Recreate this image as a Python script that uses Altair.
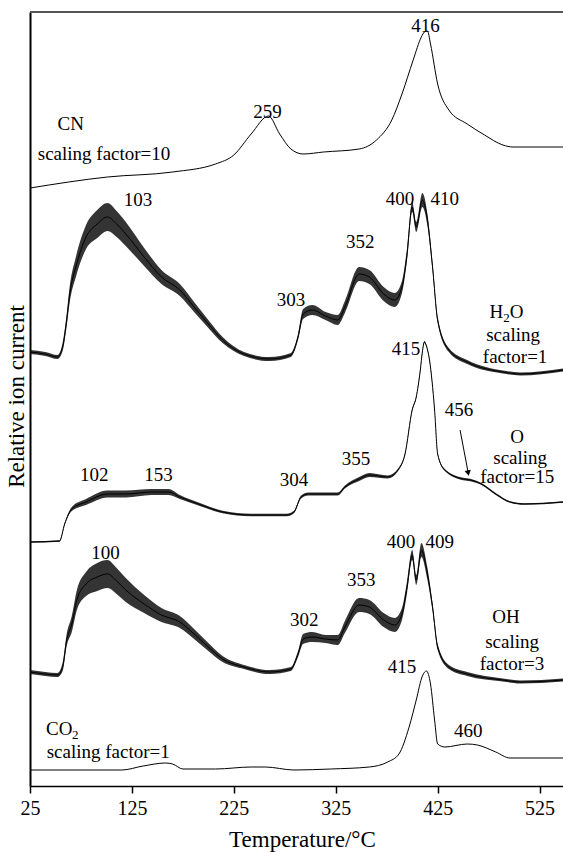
import altair as alt
import pandas as pd

# ---- curve data (temperature in °C, stacked relative ion current) ----
cn_T = [25, 101, 165, 207, 225, 242, 259, 270, 281, 293, 313, 348, 365, 380, 390, 401, 409, 412, 415, 418, 425, 436, 454, 471, 489, 499, 548]
cn_v = [598, 609, 614, 622, 631, 652, 670, 652, 637, 632, 634, 637, 646, 666, 692, 726, 749, 754, 755, 742, 702, 676, 662, 651, 641, 639, 639]

h2o_T = [25, 40, 52, 57, 61, 64, 70, 80, 91, 101, 110, 119, 137, 154, 172, 186, 200, 214, 235, 260,
         281, 288, 293, 302, 315, 327, 334, 348, 358, 372, 383, 390, 395, 400, 404, 410, 415, 420, 425, 436,
         454, 489, 506, 548]
h2o_v = [434, 432, 429, 439, 466, 492, 519, 549, 562, 569, 562, 552, 529, 509, 496, 479, 462, 446, 432, 427,
         431, 449, 472, 476, 470, 466, 479, 512, 509, 492, 486, 499, 532, 579, 559, 586, 566, 519, 466, 436,
         424, 414, 412, 416]
h2o_a = [2, 2, 2, 4, 6, 8, 10, 12, 14, 14, 13, 12, 9, 7, 6, 5, 4, 3, 2, 2,
         2, 3, 5, 5, 4, 5, 6, 7, 7, 7, 7, 6, 6, 5, 5, 7, 6, 4, 3, 2,
         2, 1.5, 1.5, 1.5]

o_T = [25, 54, 59, 66, 80, 101, 119, 144, 161, 172, 193, 214, 242, 277, 284, 291, 298, 327, 334, 348,
       358, 376, 386, 393, 400, 404, 408, 410, 412, 414, 417, 422, 425, 432, 450, 457, 468, 482, 496, 510, 548]
o_v = [244, 245, 262, 277, 284, 292, 292, 294, 294, 289, 281, 274, 271, 271, 274, 289, 292, 292, 299, 307,
       311, 309, 316, 332, 376, 389, 416, 434, 444, 440, 426, 376, 332, 316, 307, 306, 302, 292, 284, 282, 284]
o_a = [0.8, 0.8, 1, 2, 3, 3.5, 3.5, 3, 3, 2, 1.5, 1.2, 1.2, 1.2, 1.2, 1.5, 1.5, 1.5, 1.5, 2,
       2, 1.5, 1.2, 1, 1, 1, 1, 1, 1, 1, 1, 1, 1, 1, 1.2, 1.2, 1, 1, 0.8, 0.8, 0.8]

oh_T = [25, 40, 52, 57, 61, 66, 71, 80, 91, 101, 110, 119, 137, 154, 172, 186, 200, 214, 235, 260,
        281, 288, 293, 302, 315, 327, 334, 348, 358, 372, 383, 390, 395, 400, 404, 409, 415, 420, 425, 436,
        454, 489, 506, 548]
oh_v = [114, 112, 111, 119, 146, 162, 186, 202, 209, 212, 205, 196, 182, 171, 164, 152, 139, 127, 119, 114,
        117, 132, 147, 149, 147, 146, 159, 181, 179, 166, 161, 172, 199, 231, 206, 236, 212, 179, 139, 119,
        112, 106, 104, 106]
oh_a = [2, 2, 2, 4, 6, 8, 10, 12, 14, 14, 13, 12, 9, 7, 6, 5, 4, 3, 2, 2,
        2, 3, 5, 5, 4, 5, 6, 7, 7, 7, 7, 6, 6, 5, 5, 7, 6, 4, 3, 2,
        2, 1.5, 1.5, 1.5]

co2_T = [25, 115, 136, 158, 165, 175, 207, 242, 256, 284, 320, 358, 376, 387, 397, 404, 410, 414, 418, 422,
         425, 432, 454, 464, 482, 496, 548]
co2_v = [16, 16, 20, 23, 22, 17, 17, 19, 19, 16, 17, 19, 24, 32, 59, 86, 110, 115, 102, 66,
         42, 39, 42, 41, 34, 28, 28]

# ---- annotations ----
ann_text = ["416", "259", "CN", "103", "303", "352", "400", "410", "scaling", "factor=1",
            "102", "153", "304", "355", "415", "456", "O", "scaling", "factor=15",
            "100", "302", "353", "400", "409", "OH", "scaling", "factor=3", "415", "460"]
ann_T = [413, 258, 65, 131, 281, 349, 388, 432, 499, 501,
         88, 151, 284, 345, 394, 446, 503, 506, 503,
         99, 294, 350, 389, 427, 492, 498, 498, 390, 455]
ann_v = [760, 674, 662, 586, 486, 544, 587, 587, 451, 429,
         311, 311, 306, 327, 437, 376, 349, 328, 309,
         233, 166, 206, 244, 244, 169, 144, 122, 119, 55]

left_text = ["scaling factor=10", "scaling factor=1", "O", "CO"]
left_T = [32.6, 41.4, 495.8, 40.7]
left_v = [632, 34, 474, 57]

right_text = ["H"]
right_T = [489.3]
right_v = [474]

sub_text = ["2", "2"]
sub_T = [489.3, 66.3]
sub_v = [468, 51]

arrow_T = [447, 455]
arrow_v = [356, 313]

xticks = [25, 125, 225, 325, 425, 525]

# ---- build tables ----
rows = []
for name, Ts, vs, amps in [("CN", cn_T, cn_v, None), ("H2O", h2o_T, h2o_v, h2o_a),
                           ("O", o_T, o_v, o_a), ("OH", oh_T, oh_v, oh_a),
                           ("CO2", co2_T, co2_v, None)]:
    for i, (t, v) in enumerate(zip(Ts, vs)):
        a = amps[i] if amps else 0
        rows.append({"series": name, "T": t, "v": v, "lo": v - a, "hi": v + a})
df = pd.DataFrame(rows)
noisy = df[df["series"].isin(["H2O", "O", "OH"])]

ann = pd.DataFrame({"text": ann_text, "T": ann_T, "v": ann_v})
left = pd.DataFrame({"text": left_text, "T": left_T, "v": left_v})
right = pd.DataFrame({"text": right_text, "T": right_T, "v": right_v})
subs = pd.DataFrame({"text": sub_text, "T": sub_T, "v": sub_v})
arrow = pd.DataFrame({"T": arrow_T, "v": arrow_v})
tip = arrow.iloc[[1]]

FONT = "Liberation Serif"
xscale = alt.Scale(domain=[25, 548], nice=False, zero=False, clamp=True)
yscale = alt.Scale(domain=[0, 774], nice=False, zero=False)

xaxis = alt.Axis(values=xticks, title="Temperature/°C", grid=False, labelFont=FONT, labelFontSize=20,
                 labelColor="black", titleFont=FONT, titleFontSize=23, titleFontWeight="normal",
                 titleColor="black", domainColor="black", domainWidth=1.5, tickColor="black",
                 tickWidth=1.5, tickSize=7, labelPadding=5, titleX=272, titleY=60,
                 titleBaseline="alphabetic", labelFlush=False)
yaxis = alt.Axis(title="Relative ion current", labels=False, ticks=False, grid=False,
                 domainColor="black", domainWidth=2, titleFont=FONT, titleFontSize=23,
                 titleFontWeight="normal", titleColor="black", titleX=-14, titleY=384,
                 titleAngle=270, titleAlign="center", titleBaseline="middle")

X = alt.X("T:Q", scale=xscale, axis=xaxis)
Y = alt.Y("v:Q", scale=yscale, axis=yaxis)

band = alt.Chart(noisy).mark_area(color="#111", opacity=0.85, interpolate="monotone").encode(
    x=X, y=alt.Y("lo:Q", scale=yscale, axis=yaxis), y2="hi:Q", detail="series:N")

lines = alt.Chart(df).mark_line(color="black", strokeWidth=1, interpolate="monotone").encode(
    x=X, y=Y, detail="series:N")


def text_layer(data, align, size=19):
    return alt.Chart(data).mark_text(font=FONT, fontSize=size, color="black", baseline="middle",
                                     align=align).encode(x=X, y=Y, text="text:N")


labels = text_layer(ann, "center")
left_labels = text_layer(left, "left")
right_labels = text_layer(right, "right")
sub_labels = text_layer(subs, "left", 13)

arrow_line = alt.Chart(arrow).mark_line(color="black", strokeWidth=1).encode(x=X, y=Y)

arrow_tip = alt.Chart(tip).mark_point(shape="triangle-down", filled=True, color="black", size=40,
                                      angle=349, opacity=1).encode(x=X, y=Y)

top_border = alt.Chart(pd.DataFrame({"k": [0]})).mark_rule(color="#555", strokeWidth=2).encode(
    y=alt.value(0))

chart = alt.layer(band, lines, labels, left_labels, right_labels, sub_labels, arrow_line, arrow_tip,
                  top_border).properties(
    width=533, height=774,
    autosize=alt.AutoSizeParams(type="none"),
    padding={"left": 30, "top": 12, "right": 0, "bottom": 66},
).configure_view(stroke=None).configure(background="white")

chart.save("out.html", embed_options={"renderer": "svg", "actions": False})
